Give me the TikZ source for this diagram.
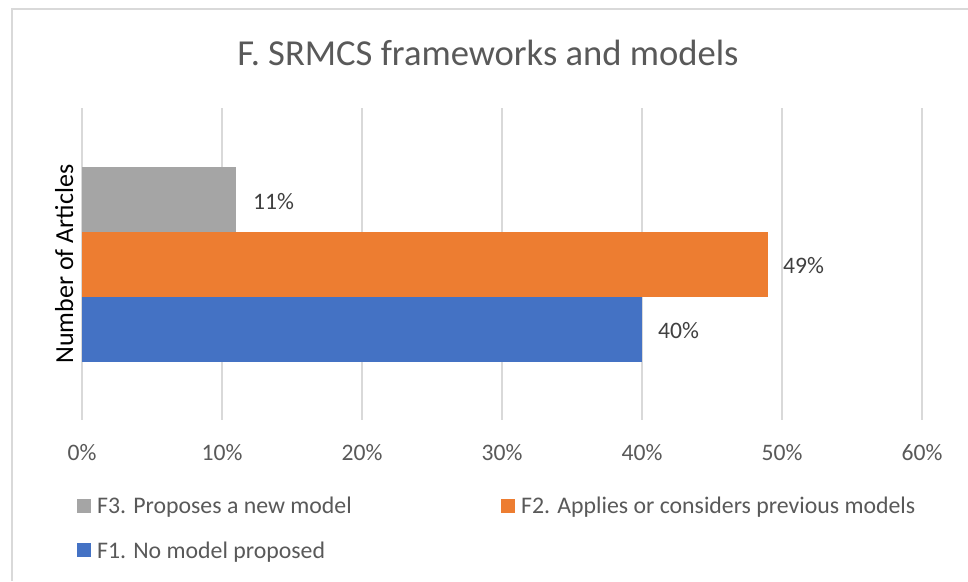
\documentclass[tikz,border=0pt]{standalone}
\usepackage{fontspec}
\setmainfont{Carlito}
\usepackage{tikz}
\definecolor{gridgray}{HTML}{D9D9D9}
\definecolor{textgray}{HTML}{595959}
\definecolor{datagray}{HTML}{404040}
\definecolor{barF3}{HTML}{A5A5A5}
\definecolor{barF2}{HTML}{ED7D31}
\definecolor{barF1}{HTML}{4472C4}
\tikzset{
  charttitle/.style={font=\fontsize{36.6}{40}\selectfont, text=textgray, inner sep=0pt, anchor=base},
  ticklabel/.style={font=\fontsize{23.6}{28}\selectfont, text=textgray, inner sep=0pt, anchor=base},
  datalabel/.style={font=\fontsize{23.6}{28}\selectfont, text=datagray, inner sep=0pt, anchor=base west},
  legendtext/.style={font=\fontsize{23.8}{28}\selectfont, text=textgray, inner sep=0pt, anchor=base west},
  legendkey/.style={minimum size=14pt, inner sep=0pt, fill=#1}
}

\begin{document}
\begin{tikzpicture}[x=1pt,y=-1pt]
    \useasboundingbox (0,0) rectangle (968,581);
    \fill[white] (0,0) rectangle (968,581);
    \draw[gridgray, line width=1.5pt] (12,581) -- (12,9) -- (968,9);
    \node[charttitle] (title) at (488,65) {F. SRMCS frameworks and models};
    \foreach \i in {0,...,6}{
      \draw[gridgray, line width=1.5pt] (82+140*\i,108) -- (82+140*\i,420);
      \node[ticklabel] (tick\i) at (82+140*\i,460) {\ifnum\i=0 0\else\i0\fi\%};
    }
    \fill[barF3] (82,167) rectangle (236,232) coordinate (endF3);
    \fill[barF2] (82,232) rectangle (768,297) coordinate (endF2);
    \fill[barF1] (82,297) rectangle (642,362) coordinate (endF1);
    \node[datalabel] (valF3) at (253,209) {11\%};
    \node[datalabel] (valF2) at (783,273) {49\%};
    \node[datalabel] (valF1) at (658,338) {40\%};
    \node[font=\fontsize{26}{30}\selectfont, inner sep=0pt, rotate=90, anchor=base] (ylabel) at (73,264) {Number of Articles};
    % legend
    \node[legendkey=barF3] (keyF3) at (84,506) {};
    \node[legendtext] (txtF3) at (97,513) {F3. Proposes a new model};
    \node[legendkey=barF2] (keyF2) at (508,506) {};
    \node[legendtext] (txtF2) at (521,513) {F2. Applies or considers previous models};
    \node[legendkey=barF1] (keyF1) at (84,550) {};
    \node[legendtext] (txtF1) at (97,558) {F1. No model proposed};
\end{tikzpicture}
\end{document}
